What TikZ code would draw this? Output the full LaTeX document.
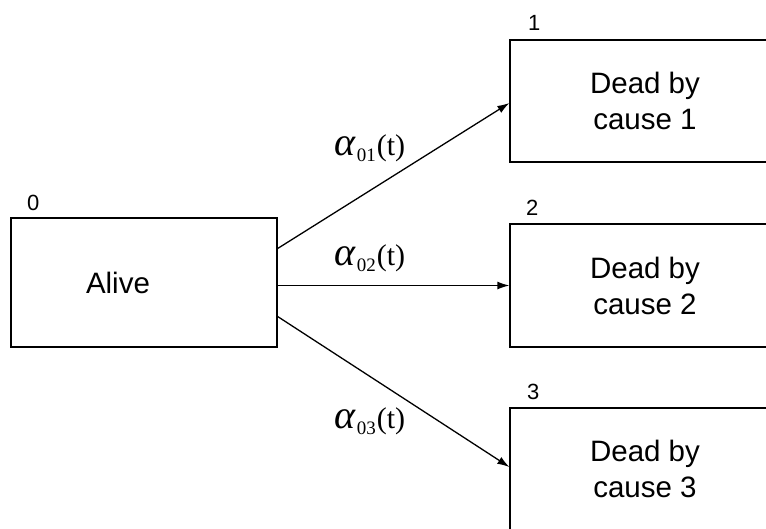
\documentclass[tikz,border=0pt]{standalone}
\usepackage{fontspec}
\setmainfont{Liberation Sans}
\newfontfamily\serifrm{Liberation Serif}
\usetikzlibrary{arrows.meta}
\newcommand{\rate}[1]{{\serifrm\fontsize{30}{30}\selectfont{\fontsize{40}{40}\selectfont\textit{α}}\kern1pt\raisebox{-6pt}{\fontsize{19}{19}\selectfont #1}\kern1pt(t)}}
\begin{document}
\begin{tikzpicture}[x=1pt,y=-1pt,
  statebox/.style={draw=black, line width=1.3pt, rectangle, inner sep=0pt,
    font=\fontsize{29.5}{36}\selectfont, align=center},
  numlab/.style={font=\fontsize{22}{22}\selectfont, anchor=base west, inner sep=0pt},
  ratelab/.style={anchor=base west, inner sep=0pt},
  trans/.style={line width=1.3pt, -{Latex[length=12pt,width=8pt]}}]
\clip (0,0) rectangle (766,528);
\fill[white] (0,0) rectangle (766,528);
\node[statebox, minimum width=266pt, minimum height=129pt, text width=116pt,
      inner xsep=75pt, align=left] (alive) at (144,282.5) {Alive};
\node[statebox, minimum width=270pt, minimum height=122pt] (d1) at (645,101) {Dead by\\cause 1};
\node[statebox, minimum width=270pt, minimum height=123pt] (d2) at (645,285.5) {Dead by\\cause 2};
\node[statebox, minimum width=270pt, minimum height=122pt] (d3) at (645,469) {Dead by\\cause 3};
\node[numlab] (n0) at (27,210) {0};
\node[numlab] (n1) at (528,30) {1};
\node[numlab] (n2) at (526,215) {2};
\node[numlab] (n3) at (527,399) {3};
\draw[trans] ([yshift=34pt]alive.east) -- ([yshift=-2pt]d1.west);
\draw[trans] ([yshift=-3pt]alive.east) -- (d2.west);
\draw[trans] ([yshift=-34pt]alive.east) -- ([yshift=2pt]d3.west);
\node[ratelab] (r1) at (334,155) {\rate{01}};
\node[ratelab] (r2) at (334,265) {\rate{02}};
\node[ratelab] (r3) at (334,428) {\rate{03}};
\end{tikzpicture}
\end{document}
